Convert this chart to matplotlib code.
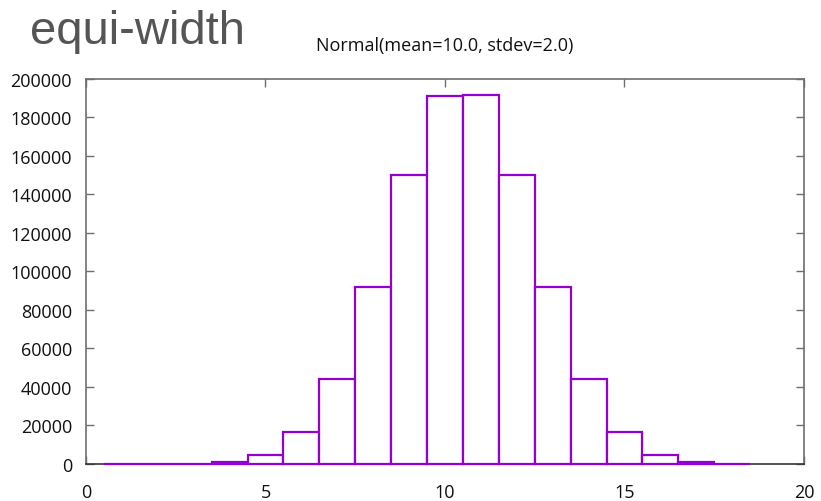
import matplotlib
matplotlib.use('Agg')
import matplotlib.pyplot as plt

# bin centres and counts of the normal sample
centers = [1, 2, 3, 4, 5, 6, 7, 8, 9, 10, 11, 12, 13, 14, 15, 16, 17, 18]
counts = [3, 30, 220, 1150, 4900, 16700, 44200, 91600, 150000, 190700,
          191500, 149800, 91800, 44100, 16800, 4850, 1150, 230]
x_ticks = [0, 5, 10, 15, 20]
y_ticks = list(range(0, 200001, 20000))

bar_color = '#9400d3'
frame_color = '#6e6e6e'

fig = plt.figure(figsize=(8.21, 5.02), dpi=100)
ax = fig.add_axes([0.1047, 0.0737, 0.8746, 0.7679])

ax.bar(centers, counts, width=1.0, align='center', facecolor='white',
       edgecolor=bar_color, linewidth=1.6, zorder=3, clip_on=False)

ax.set_xlim(0, 20)
ax.set_ylim(0, 200000)
ax.set_xticks(x_ticks)
ax.set_yticks(y_ticks)
ax.set_xticklabels([str(t) for t in x_ticks])
ax.set_yticklabels([str(t) for t in y_ticks])

for spine in ax.spines.values():
    spine.set_color(frame_color)
    spine.set_linewidth(1.2)
ax.spines['bottom'].set_color('#333333')

ax.tick_params(direction='in', length=6, width=1.0, color=frame_color,
               top=True, right=True, labelsize=13, labelcolor='#111111')
ax.tick_params(axis='x', pad=14)
ax.tick_params(axis='y', pad=10)
for lbl in ax.get_xticklabels() + ax.get_yticklabels():
    lbl.set_fontfamily('Open Sans')

fig.text(0.036, 0.912, 'equi-width', fontsize=34, color='#555555',
         family='Liberation Sans', ha='left', va='baseline')
fig.text(0.542, 0.898, 'Normal(mean=10.0, stdev=2.0)', fontsize=13,
         color='#111111', family='Open Sans', ha='center', va='baseline')

fig.savefig('out.png', dpi=100, facecolor='white')
